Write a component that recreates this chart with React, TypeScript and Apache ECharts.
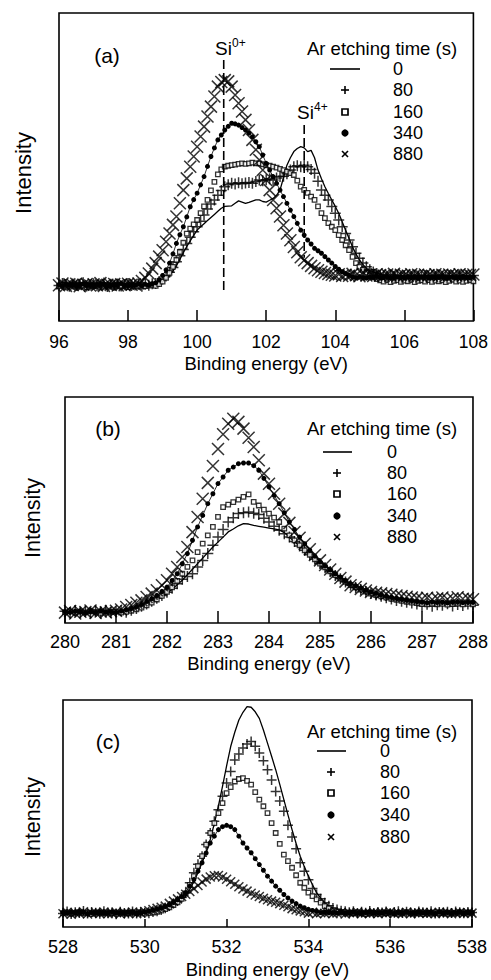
import React, { useEffect, useRef } from "react";
import * as echarts from "echarts";

const FONT = '"Liberation Sans", Arial, Helvetica, sans-serif';
const STEP = 0.1;

// ---------- panel (a): Si 2p, 96..108 eV ----------
const A_START = 96;
const A_0 = [
  11.9,11.4,12.1,11.6,11.2,11.8,12.3,11.5,11.7,12.0,11.3,11.9,11.6,12.2,11.4,11.8,11.5,12.0,11.7,11.3,11.9,12.1,11.6,11.4,11.8,12.0,11.5,11.9,11.7,
  12.2,12.8,13.6,14.8,16.2,18.0,20.0,22.2,24.2,26.0,27.8,29.5,30.6,31.6,32.6,33.6,34.6,35.6,36.6,37.2,37.3,37.4,38.2,39.0,38.6,38.2,38.5,38.9,39.3,39.3,38.8,38.6,39.2,39.8,40.8,42.5,46.5,50.6,53.0,55.0,56.0,56.6,56.2,55.0,55.4,53.0,49.0,46.2,43.6,41.4,39.3,37.2,35.0,32.2,29.5,26.8,24.0,21.8,19.8,18.4,17.1,16.4,15.9,15.5,15.1,14.8,
  14.4,14.7,14.2,14.5,14.9,14.3,14.6,14.1,14.4,14.8,14.5,14.2,14.6,14.3,14.7,14.4,14.9,14.2,14.5,14.6,14.3,14.8,14.4,14.5,14.2,14.6,
];
const A_80 = [
  11.5,12.2,11.8,11.3,12.0,11.6,11.9,12.4,11.4,11.7,12.1,11.5,11.8,12.3,11.2,11.9,11.6,12.0,11.4,11.8,12.2,11.5,11.7,12.0,11.3,11.9,11.6,12.1,
  12.2,12.8,13.6,14.6,15.8,17.4,19.2,21.2,23.2,25.2,27.2,29.0,30.6,32.4,34.4,36.4,38.0,39.3,40.8,42.4,43.6,44.2,44.7,44.5,44.9,44.6,44.8,45.0,44.7,45.3,45.8,45.5,45.9,46.2,45.8,46.4,46.9,47.0,47.8,49.0,50.1,50.4,50.1,50.6,50.1,49.2,48.0,45.4,42.5,40.8,39.3,37.2,35.0,32.8,30.6,28.4,26.3,24.1,22.0,20.4,18.8,17.6,16.6,15.9,15.4,14.9,
  14.6,14.2,15.0,14.4,14.8,14.1,14.7,14.5,14.3,14.9,14.6,14.2,14.8,14.4,14.7,14.3,15.0,14.5,14.2,14.8,14.6,14.4,14.9,14.3,14.7,14.5,14.8,
];
const A_160 = [
  11.3,11.7,11.1,11.5,11.9,11.2,11.6,11.4,11.0,11.8,11.3,11.5,11.7,11.1,11.4,11.6,11.2,11.8,11.3,11.5,11.0,11.7,11.4,11.2,11.6,11.3,11.5,11.8,11.4,
  12.0,12.8,14.0,15.6,17.6,19.8,22.4,25.4,28.4,30.0,31.4,32.8,35.0,37.2,39.3,42.4,45.2,47.6,49.2,50.1,50.4,50.6,50.8,51.0,51.2,51.0,51.2,51.4,51.2,51.2,50.9,50.6,50.4,50.1,49.8,49.4,49.0,48.5,48.0,47.4,45.6,43.6,42.6,41.6,40.4,39.3,37.2,35.0,33.4,31.8,30.6,29.5,27.9,26.3,24.6,23.0,20.8,18.8,17.6,16.6,15.6,14.8,14.2,13.6,
  13.2,12.8,13.4,12.6,13.0,13.3,12.7,13.1,12.9,13.4,12.6,13.0,13.2,12.8,13.3,12.7,13.1,12.9,13.2,12.6,13.0,13.4,12.8,13.1,12.7,13.0,13.3,12.9,
];
const A_340 = [
  11.8,11.4,12.0,11.6,11.9,11.3,11.7,12.1,11.5,11.8,11.4,11.9,11.6,12.0,11.3,11.7,11.5,11.9,12.2,11.6,11.4,11.8,11.7,12.0,11.5,11.9,11.6,12.1,
  12.4,13.4,14.8,16.6,18.8,21.8,25.2,28.0,30.6,33.8,37.1,39.4,41.5,44.2,46.9,50.2,53.4,56.2,58.8,60.4,62.0,63.2,64.2,64.0,63.6,62.8,62.0,61.0,59.8,58.2,56.6,53.9,51.2,49.0,46.9,44.7,42.5,40.4,38.2,36.0,33.9,31.7,29.5,27.9,26.3,25.0,23.6,22.8,22.0,20.9,19.8,18.8,17.7,16.8,16.0,15.4,14.9,
  14.3,14.0,14.4,14.1,13.9,14.3,14.2,14.5,14.0,14.2,14.4,13.9,14.1,14.3,14.2,14.0,14.4,14.1,14.3,13.9,14.2,14.5,14.0,14.3,14.1,14.2,14.4,13.9,14.2,14.3,14.0,14.1,14.4,14.2,14.0,14.3,
];
const A_880 = [
  11.6,12.2,11.4,11.9,11.7,12.1,11.3,11.8,12.0,11.5,11.9,11.6,12.3,11.4,11.8,11.7,12.0,11.5,11.9,11.6,12.1,11.8,11.9,
  12.2,13.0,14.0,15.4,17.0,18.8,20.9,23.0,25.7,28.4,31.2,33.9,38.2,42.5,46.3,50.1,53.4,56.6,59.9,63.1,66.4,69.6,72.9,76.1,77.6,78.2,77.8,76.1,73.4,70.7,68.0,65.3,62.0,58.8,55.6,52.3,49.0,45.8,42.5,39.3,36.6,33.9,31.1,28.4,26.2,24.0,22.3,20.7,19.7,18.8,17.9,17.1,16.5,16.0,15.6,15.3,15.0,
  14.8,15.2,14.6,15.0,14.7,15.3,14.9,14.5,15.1,14.8,15.0,14.6,15.2,14.9,14.7,15.1,14.8,15.3,14.6,15.0,14.9,14.7,15.2,14.8,15.0,14.5,15.1,14.9,14.7,15.2,14.8,15.0,14.6,15.1,14.9,14.8,15.2,14.7,15.0,14.9,15.1,
];

// ---------- panel (b): C 1s, 280..288 eV ----------
const B_START = 280;
const B_0 = [
  4.9,5.3,4.6,5.1,4.8,5.2,4.5,5.0,4.9,5.3,4.7,
  5.2,5.6,6.2,7.0,7.8,8.6,9.6,10.6,11.8,13.0,14.9,16.9,18.9,21.4,23.8,26.3,28.7,31.2,33.6,35.8,38.0,40.3,41.6,43.0,44.0,43.8,43.2,42.8,42.4,42.0,41.6,41.2,40.0,38.0,36.0,34.1,32.2,30.0,27.7,25.5,23.8,22.1,20.4,18.9,17.4,15.9,15.2,14.5,13.7,13.0,12.6,12.1,11.7,11.2,10.8,10.4,10.0,9.6,9.2,
  8.8,8.4,8.9,8.5,8.7,8.3,8.8,8.6,8.4,8.9,8.6,
];
const B_80 = [
  5.2,4.6,5.5,4.8,5.1,4.4,5.3,4.9,5.6,4.7,5.0,5.4,4.8,
  5.6,6.4,7.4,8.4,9.6,10.9,12.2,13.6,15.4,17.4,19.4,20.6,21.8,24.8,27.7,30.7,34.4,38.0,41.4,44.7,46.6,48.4,48.8,49.1,48.6,48.0,46.4,44.7,42.8,41.0,39.5,38.0,36.1,34.1,32.2,30.2,28.2,26.3,24.5,22.8,21.0,19.6,18.1,16.7,15.7,14.8,13.9,13.0,12.4,11.8,11.2,10.6,10.0,9.6,9.2,8.8,8.4,
  7.6,8.3,7.4,8.1,7.8,8.5,7.5,8.2,7.7,8.4,7.9,
];
const B_160 = [
  4.8,5.1,4.6,5.0,4.7,5.2,4.9,4.5,5.1,4.8,5.0,4.6,4.9,
  5.4,6.0,6.8,7.8,9.0,10.4,12.0,13.8,15.8,18.6,21.8,24.8,27.7,31.4,35.1,38.8,42.5,47.0,51.3,52.4,53.5,54.6,55.8,56.9,53.6,52.0,50.2,48.4,46.6,44.7,41.8,38.8,36.6,34.4,32.2,30.2,28.2,26.3,24.6,22.9,21.2,19.7,18.2,16.8,15.8,14.8,13.9,13.0,12.4,11.8,11.2,10.7,10.2,9.8,9.4,9.0,8.8,
  8.4,8.2,8.6,8.3,8.5,8.1,8.4,8.6,8.2,8.5,8.3,
];
const B_340 = [
  5.0,4.7,5.2,4.9,4.6,5.1,4.8,5.3,4.9,5.0,4.8,
  5.3,5.8,6.4,7.2,8.2,9.6,10.8,12.2,14.0,15.9,18.8,21.8,26.2,30.7,36.6,42.5,47.6,52.8,57.2,61.7,64.6,67.6,69.0,70.5,70.8,70.8,69.6,67.6,64.0,60.2,56.5,52.8,48.8,44.7,41.4,38.0,35.1,32.2,29.6,27.0,25.2,23.5,21.8,20.3,18.8,17.4,16.4,15.4,14.5,13.7,13.1,12.5,11.9,11.4,10.9,10.5,10.1,9.8,9.5,
  9.2,9.0,9.4,9.1,9.3,8.9,9.2,9.4,9.0,9.3,9.1,
];
const B_880 = [
  4.6,5.3,4.2,5.0,4.8,5.5,4.4,5.1,4.7,5.2,
  5.4,6.0,7.1,8.0,9.0,10.0,11.5,13.0,14.5,16.7,18.9,21.8,24.8,29.2,33.6,40.2,46.9,55.0,62.0,69.5,77.0,83.5,88.2,90.4,89.0,86.0,82.0,77.9,72.0,66.1,61.6,57.2,52.8,48.4,44.3,40.3,37.7,35.1,32.6,30.1,27.7,25.7,23.7,21.8,19.9,18.3,16.7,15.9,15.1,14.4,13.7,13.4,13.1,12.8,12.5,12.2,11.9,11.6,11.3,11.0,
  10.6,11.2,10.4,10.9,11.3,10.5,10.8,11.4,10.7,11.0,10.5,
];

// ---------- panel (c): O 1s, 528..538 eV ----------
const C_START = 528;
const C_0 = [
  6.3,6.6,6.1,6.4,6.2,6.5,6.0,6.3,6.6,6.2,6.4,6.1,6.5,6.3,6.0,6.4,6.2,6.6,6.3,6.1,6.5,6.2,6.4,
  6.8,7.3,8.0,8.8,9.7,10.8,12.0,13.6,16.6,20.0,23.9,28.4,33.2,38.5,45.6,53.4,61.9,71.0,79.5,85.8,91.2,94.6,97.1,96.8,94.8,91.9,86.8,81.0,75.2,69.3,62.8,56.1,49.4,42.9,36.8,31.2,26.6,22.4,18.6,15.1,12.7,10.7,9.3,8.1,7.4,7.0,6.7,
  6.4,6.2,6.5,6.3,6.6,6.1,6.4,6.3,6.5,6.2,6.4,6.6,6.3,6.1,6.5,6.4,6.2,6.3,6.6,6.4,6.2,6.5,6.3,6.1,6.4,6.6,6.3,6.5,6.2,6.4,6.3,
];
const C_80 = [
  6.0,6.8,5.7,6.5,6.2,7.0,5.9,6.6,6.3,5.8,6.9,6.1,6.4,5.6,6.7,6.2,6.0,6.8,5.9,6.5,6.3,6.1,6.6,
  6.9,7.5,8.3,9.2,10.3,11.6,13.0,15.0,19.5,23.9,27.6,31.2,36.3,41.4,46.6,51.7,57.6,63.4,68.5,73.6,76.2,78.8,80.6,81.7,79.6,76.6,73.2,69.3,64.8,59.7,55.5,51.0,44.8,39.6,34.5,28.3,24.6,20.8,17.0,14.3,12.4,10.7,9.4,8.4,7.7,7.2,6.9,
  6.5,6.9,6.1,6.7,6.3,7.0,6.2,6.6,6.4,6.8,6.0,6.5,6.9,6.2,6.7,6.4,6.1,6.8,6.5,6.3,6.9,6.0,6.6,6.4,6.7,6.2,6.8,6.5,6.1,6.6,6.4,
];
const C_160 = [
  6.1,6.4,5.9,6.2,6.5,6.0,6.3,5.8,6.2,6.4,6.0,6.3,6.1,5.9,6.4,6.2,6.0,6.3,6.1,6.5,5.9,6.2,6.3,
  6.7,7.2,7.9,8.7,9.7,10.9,12.4,14.8,18.6,22.4,26.8,31.2,36.3,41.4,45.8,50.2,54.6,59.0,61.6,64.1,65.2,65.6,64.4,62.7,59.4,56.1,53.2,50.2,45.8,41.4,36.6,31.9,29.0,26.1,22.8,19.5,17.3,15.1,13.6,12.2,10.7,9.2,8.2,7.3,6.9,6.6,6.4,
  6.2,6.0,6.4,6.1,5.8,6.3,6.2,5.9,6.4,6.0,6.3,6.1,5.9,6.2,6.4,6.0,6.1,6.3,5.8,6.2,6.0,6.4,6.1,6.3,5.9,6.2,6.0,6.4,6.1,6.3,6.2,
];
const C_340 = [
  6.4,6.1,6.5,6.2,6.6,6.3,6.0,6.4,6.2,6.5,6.1,6.3,6.6,6.2,6.4,6.0,6.5,6.3,6.1,6.4,
  6.6,7.0,7.4,7.9,8.4,9.0,9.8,10.8,12.0,13.4,15.1,18.0,20.9,24.6,28.3,32.6,37.0,40.0,42.9,44.2,44.8,44.2,42.9,40.0,37.0,34.8,32.7,30.1,27.5,25.0,22.4,20.2,18.0,16.2,14.3,12.8,11.4,10.3,9.2,8.5,7.8,7.3,6.9,
  6.3,6.5,6.2,6.4,6.1,6.6,6.3,6.2,6.5,6.0,6.4,6.3,6.6,6.1,6.4,6.2,6.5,6.3,6.0,6.4,6.2,6.6,6.3,6.1,6.5,6.2,6.4,6.3,6.0,6.5,6.2,6.4,6.1,6.3,6.6,6.2,6.4,6.3,
];
const C_880 = [
  5.8,6.5,5.6,6.3,6.0,6.7,5.7,6.2,6.4,5.9,6.6,5.8,6.1,6.5,5.7,6.3,6.0,6.6,5.9,6.2,
  6.8,7.2,7.7,8.2,8.7,9.2,10.4,11.4,12.4,13.4,14.4,15.6,16.9,18.3,19.8,21.1,22.0,22.6,22.7,22.0,21.0,19.9,18.8,17.7,16.7,15.8,14.9,14.1,13.4,12.6,12.0,11.4,10.9,10.3,9.6,8.9,8.1,7.6,7.1,6.7,
  6.1,6.5,5.8,6.3,6.0,6.6,5.9,6.2,6.4,5.7,6.3,6.1,6.5,5.9,6.2,6.0,6.4,5.8,6.3,6.1,6.6,5.9,6.2,6.0,6.5,5.8,6.3,6.1,6.4,6.0,6.2,5.9,6.5,6.1,6.3,5.8,6.2,6.4,6.0,6.3,6.1,
];

// annotation positions in panel (a) (x in eV, y in % of plot height)
const SI0_E = 100.77;
const SI0_Y = [84.7, 9.4];
const SI4_E = 103.1;
const SI4_Y = [63.6, 20.5];

const LEGEND_TITLE = "Ar etching time (s)";
const LEGEND_LABELS = ["0", "80", "160", "340", "880"];
const PANEL_LABELS = ["(a)", "(b)", "(c)"];
const X_TITLE = "Binding energy (eV)";
const Y_TITLE = "Intensity";

const PLUS = "path://M5,0L5,10M0,5L10,5";
const CROSS = "path://M0,0L10,10M10,0L0,10";

function pts(start: number, vals: number[]) {
  return vals.map((v, i) => [Math.round((start + i * STEP) * 100) / 100, v]);
}

function panelSeries(idx: number, start: number, sets: number[][], plusSize: number, crossSize: number) {
  const [s0, s80, s160, s340, s880] = sets;
  const base = { xAxisIndex: idx, yAxisIndex: idx, silent: true };
  return [
    { ...base, type: "line", data: pts(start, s0), showSymbol: false, symbol: "none", lineStyle: { color: "#000", width: 1.3 }, z: 3 },
    { ...base, type: "scatter", data: pts(start, s80), symbol: PLUS, symbolSize: plusSize, itemStyle: { color: "rgba(0,0,0,0)", borderColor: "#000", borderWidth: 1.5 }, z: 4 },
    { ...base, type: "scatter", data: pts(start, s160), symbol: "rect", symbolSize: 4.5, itemStyle: { color: "#fff", borderColor: "#000", borderWidth: 1.3 }, z: 5 },
    { ...base, type: "line", data: pts(start, s340), showSymbol: true, symbol: "circle", symbolSize: 5, itemStyle: { color: "#000" }, lineStyle: { color: "#000", width: 0.8 }, z: 6 },
    { ...base, type: "scatter", data: pts(start, s880), symbol: CROSS, symbolSize: crossSize, itemStyle: { color: "rgba(0,0,0,0)", borderColor: "#000", borderWidth: 1.5 }, z: 7 },
  ];
}

function legendGraphics(titleX: number, titleY: number, lx1: number, lx2: number, mx: number, labelX: number, rows: number[]) {
  const g: any[] = [];
  const st = { stroke: "#000", lineWidth: 1.6 };
  g.push({ type: "text", x: titleX, y: titleY, style: { text: LEGEND_TITLE, font: `18.5px ${FONT}`, fill: "#000", align: "center", verticalAlign: "middle" } });
  g.push({ type: "line", shape: { x1: lx1, y1: rows[0], x2: lx2, y2: rows[0] }, style: st });
  g.push({ type: "line", shape: { x1: mx - 4, y1: rows[1], x2: mx + 4, y2: rows[1] }, style: st });
  g.push({ type: "line", shape: { x1: mx, y1: rows[1] - 4, x2: mx, y2: rows[1] + 4 }, style: st });
  g.push({ type: "rect", shape: { x: mx - 3, y: rows[2] - 3, width: 6, height: 6 }, style: { fill: "#fff", stroke: "#000", lineWidth: 1.7 } });
  g.push({ type: "circle", shape: { cx: mx, cy: rows[3], r: 3.6 }, style: { fill: "#000" } });
  g.push({ type: "line", shape: { x1: mx - 3, y1: rows[4] - 3, x2: mx + 3, y2: rows[4] + 3 }, style: st });
  g.push({ type: "line", shape: { x1: mx - 3, y1: rows[4] + 3, x2: mx + 3, y2: rows[4] - 3 }, style: st });
  LEGEND_LABELS.forEach((t, i) => {
    g.push({ type: "text", x: labelX, y: rows[i], style: { text: t, font: `18px ${FONT}`, fill: "#000", align: "left", verticalAlign: "middle" } });
  });
  return g;
}

function txt(x: number, y: number, text: string, size: number, extra: any = {}) {
  return { type: "text", x, y, ...extra, style: { text, font: `${size}px ${FONT}`, fill: "#000", align: extra.align || "center", verticalAlign: "middle" } };
}

export default function App() {
  const ref = useRef<HTMLDivElement>(null);
  useEffect(() => {
    if (!ref.current) return;
    const chart = echarts.init(ref.current, undefined, { renderer: "svg" });
    const gridStyle = { show: true, borderColor: "#000", borderWidth: 1.6, backgroundColor: "transparent" };
    const xBase = (idx: number, min: number, max: number, interval: number, tickLen: number, fs: number, margin: number, nameGap: number) => ({
      gridIndex: idx,
      type: "value",
      min,
      max,
      interval,
      axisLine: { show: false },
      axisTick: { show: true, inside: true, length: tickLen, lineStyle: { color: "#000", width: 1.5 } },
      axisLabel: { color: "#000", fontSize: fs, fontFamily: FONT, margin },
      splitLine: { show: false },
      name: X_TITLE,
      nameLocation: "middle",
      nameGap,
      nameTextStyle: { color: "#000", fontSize: 18.5, fontFamily: FONT },
    });
    const yBase = (idx: number) => ({ gridIndex: idx, type: "value", min: 0, max: 100, show: false });

    const dashed = (e: number, ys: number[], name: string) => ({
      type: "line",
      name,
      xAxisIndex: 0,
      yAxisIndex: 0,
      data: [[e, ys[0]], [e, ys[1]]],
      showSymbol: false,
      symbol: "none",
      lineStyle: { color: "#000", width: 1.6, type: [9, 4] },
      silent: true,
      z: 8,
    });

    const option: any = {
      animation: false,
      backgroundColor: "#fff",
      textStyle: { fontFamily: FONT },
      grid: [
        { left: 59, top: 13, width: 416, height: 308, ...gridStyle },
        { left: 65, top: 397, width: 408, height: 226, ...gridStyle },
        { left: 63, top: 700, width: 409, height: 228, ...gridStyle },
      ],
      xAxis: [
        xBase(0, 96, 108, 2, 11, 17.5, 12, 33),
        xBase(1, 280, 288, 1, 12, 18, 10, 31),
        xBase(2, 528, 538, 2, 8, 18, 11, 33),
      ],
      yAxis: [yBase(0), yBase(1), yBase(2)],
      series: [
        ...panelSeries(0, A_START, [A_0, A_80, A_160, A_340, A_880], 11, 12),
        dashed(SI0_E, SI0_Y, "Si0+"),
        dashed(SI4_E, SI4_Y, "Si4+"),
        ...panelSeries(1, B_START, [B_0, B_80, B_160, B_340, B_880], 11, 12),
        ...panelSeries(2, C_START, [C_0, C_80, C_160, C_340, C_880], 10, 9),
      ],
      graphic: [
        txt(23, 173, Y_TITLE, 22, { rotation: Math.PI / 2 }),
        txt(33, 518, Y_TITLE, 21.5, { rotation: Math.PI / 2 }),
        txt(33, 817, Y_TITLE, 21.5, { rotation: Math.PI / 2 }),
        txt(107, 55, PANEL_LABELS[0], 21),
        txt(108, 428, PANEL_LABELS[1], 21),
        txt(108, 741, PANEL_LABELS[2], 21),
        txt(215, 48, "Si", 19, { align: "left" }),
        txt(232, 43, "0+", 12, { align: "left" }),
        txt(297, 112, "Si", 19, { align: "left" }),
        txt(314, 107, "4+", 12, { align: "left" }),
        ...legendGraphics(382, 48, 330, 360, 345, 393, [69, 90, 112, 133, 154]),
        ...legendGraphics(382, 428, 323, 352, 337, 387, [452, 473, 494, 516, 537]),
        ...legendGraphics(382, 731, 317, 346, 331, 380, [751, 772, 793, 815, 837]),
      ],
    };
    chart.setOption(option);
    return () => chart.dispose();
  }, []);
  return (
    <div
      ref={ref}
      style={{ position: "absolute", left: 0, top: 0, width: 491, height: 980, background: "#fff" }}
    />
  );
}
